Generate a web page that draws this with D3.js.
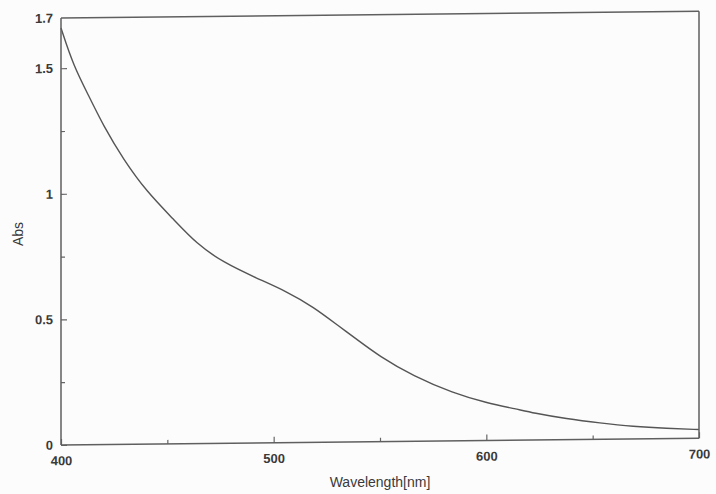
<!DOCTYPE html>
<html>
<head>
<meta charset="utf-8">
<script src="https://cdn.jsdelivr.net/npm/d3@7"></script>
<style>
  body { margin: 0; background: #fcfcfc; }
  text { font-family: "Liberation Sans", Arial, sans-serif; fill: #3a3a3a; }
</style>
</head>
<body>
<div class="spectrum"></div>
<script>
var svgWidth = 716;
var svgHeight = 494;

var margin = { top: 18, right: 17, bottom: 49, left: 61 };

var width = svgWidth - margin.left - margin.right;
var height = svgHeight - margin.top - margin.bottom;

// absorbance spectrum
var wavelength = [400, 405.8, 413.6, 419.9, 429.3, 440.3, 452.8, 463.8, 476.3, 492, 506.1, 518.6,
  531.2, 537.4, 550, 565.6, 584.4, 600, 614.2, 622, 637.7, 653.4, 669, 684.8, 700];
var absorbance = [1.66, 1.51, 1.38, 1.27, 1.135, 1.005, 0.895, 0.795, 0.72, 0.656, 0.602, 0.54,
  0.458, 0.419, 0.338, 0.26, 0.19, 0.15, 0.124, 0.108, 0.083, 0.065, 0.05, 0.041, 0.035];

var xMajorTicks = [400, 500, 600, 700];
var xMinorTicks = [450, 550, 650];
var yMajorTicks = [0, 0.5, 1, 1.5, 1.7];
var yMinorTicks = [0.25, 0.75, 1.25];

var svg = d3.select(".spectrum")
  .append("svg")
  .attr("width", svgWidth)
  .attr("height", svgHeight);

// the scan is slightly tilted, so skew the plot a bit
var tilt = 0.6;
var slope = Math.tan(tilt * Math.PI / 180);

var chartGroup = svg.append("g")
  .attr("transform", `translate(${margin.left}, ${margin.top}) skewY(-${tilt})`);

var xScale = d3.scaleLinear().domain([400, 700]).range([0, width]);
var yScale = d3.scaleLinear().domain([0, 1.7]).range([height, 0]);

// x axis, ticks pointing inward
chartGroup.append("g")
  .attr("transform", `translate(0, ${height})`)
  .call(d3.axisBottom(xScale).tickValues(xMajorTicks).tickSizeInner(-6).tickSizeOuter(0).tickPadding(11));

chartGroup.append("g")
  .attr("transform", `translate(0, ${height})`)
  .call(d3.axisBottom(xScale).tickValues(xMinorTicks).tickSizeInner(-4).tickSizeOuter(0).tickFormat(""));

var yAxis = chartGroup.append("g")
  .call(d3.axisLeft(yScale).tickValues(yMajorTicks).tickSizeInner(-6).tickSizeOuter(0).tickPadding(8)
    .tickFormat(d => d3.format("~g")(d)));

chartGroup.append("g")
  .call(d3.axisLeft(yScale).tickValues(yMinorTicks).tickSizeInner(-4).tickSizeOuter(0).tickFormat(""));

chartGroup.selectAll(".domain").remove();
chartGroup.selectAll(".tick line").attr("stroke", "#666").attr("stroke-width", 1.2);
chartGroup.selectAll(".tick text")
  .attr("font-size", 13)
  .attr("font-weight", "bold")
  .attr("fill", "#3a3a3a");

// no tick mark at the top of the frame
yAxis.selectAll(".tick").filter(d => d === 1.7).select("line").remove();

// the spectrum
var points = wavelength.map((w, i) => [w, absorbance[i]]);

var line = d3.line()
  .x(d => xScale(d[0]))
  .y(d => yScale(d[1]))
  .curve(d3.curveBasis);

chartGroup.append("path")
  .datum(points)
  .attr("d", line)
  .attr("fill", "none")
  .attr("stroke", "#555")
  .attr("stroke-width", 1.4);

// frame in page coordinates, drawn last
var x0 = margin.left, x1 = margin.left + width;
var y0 = margin.top, y1 = margin.top + height, dy = width * slope;
var frame = [
  [x0, y0, x1, y0 - dy],
  [x0, y1, x1, y1 - dy],
  [x0, y0, x0, y1],
  [x1, y0 - dy, x1, y1 - dy]
];
svg.selectAll(".frame")
  .data(frame)
  .enter()
  .append("line")
  .attr("class", "frame")
  .attr("x1", d => d[0]).attr("y1", d => d[1])
  .attr("x2", d => d[2]).attr("y2", d => d[3])
  .attr("stroke", "#5f5f5f")
  .attr("stroke-width", 1.5);

// axis labels
svg.append("text")
  .attr("x", margin.left + width / 2)
  .attr("y", 487)
  .attr("text-anchor", "middle")
  .attr("font-size", 14)
  .text("Wavelength[nm]");

svg.append("text")
  .attr("transform", "translate(23, 234) rotate(-90)")
  .attr("text-anchor", "middle")
  .attr("font-size", 14)
  .text("Abs");
</script>
</body>
</html>
